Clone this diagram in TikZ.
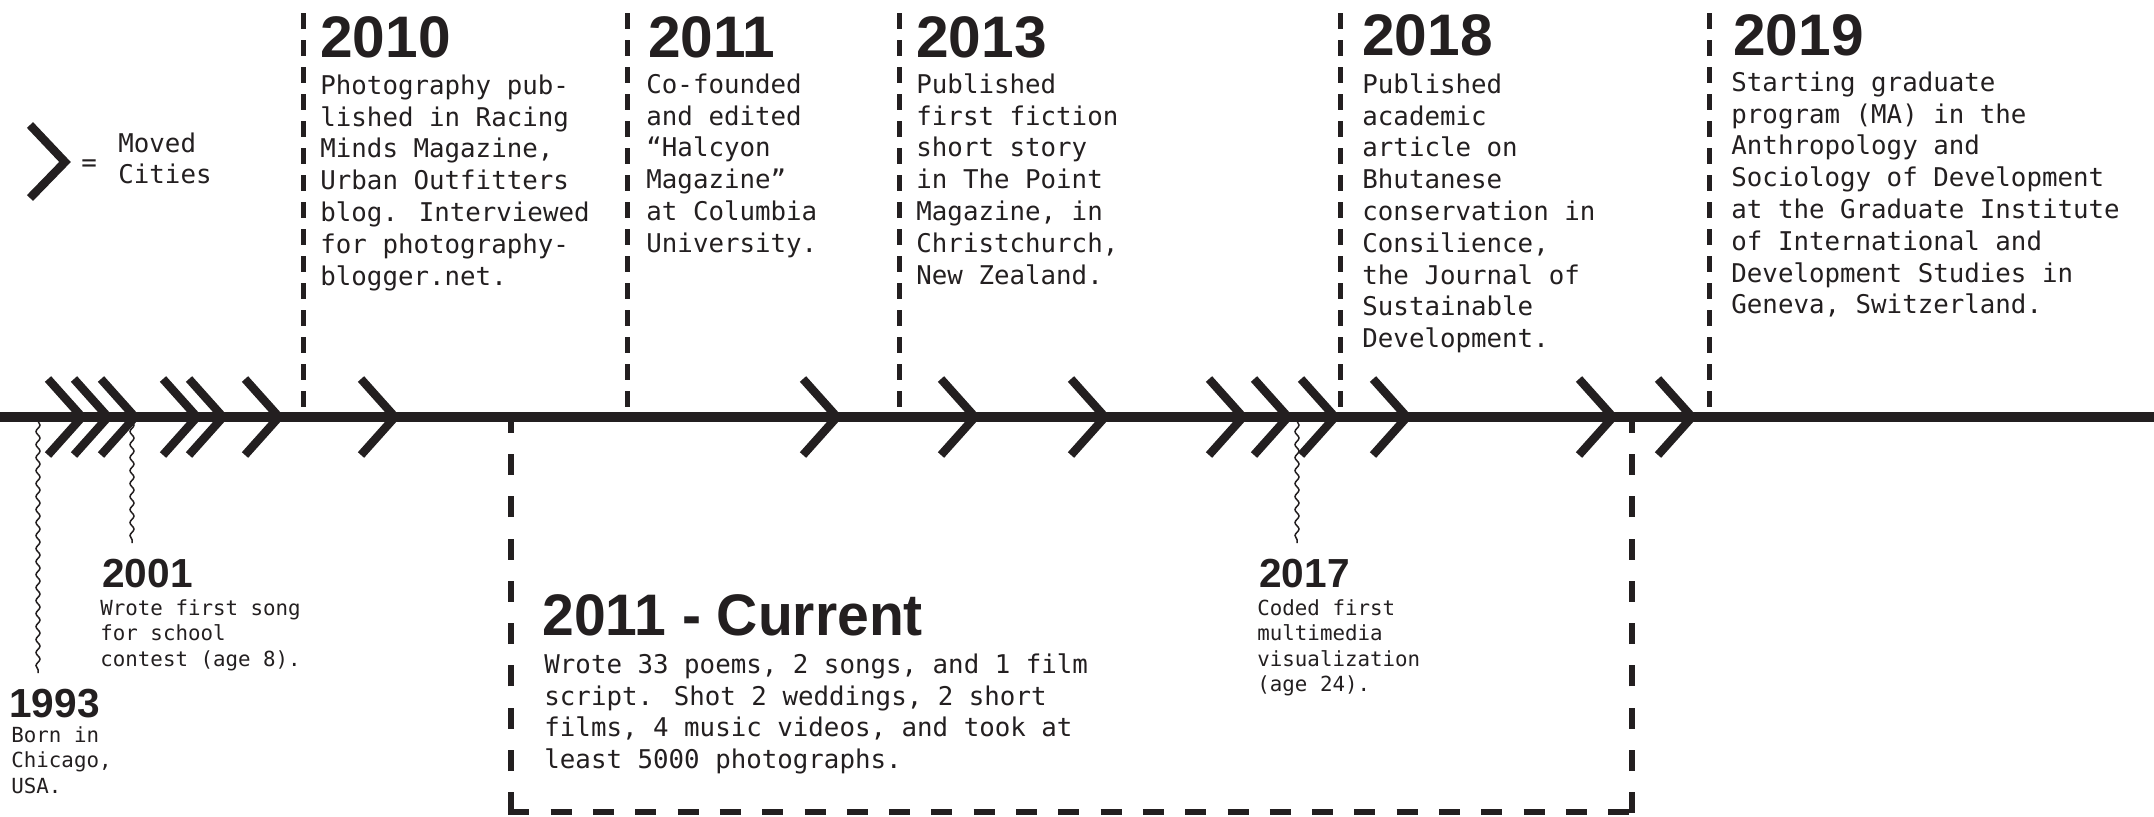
\documentclass[tikz,border=0pt]{standalone}
\usepackage{fontspec}
\usetikzlibrary{decorations.pathmorphing}
\newfontfamily\monof{DejaVu Sans Mono}
\newfontfamily\headf{Liberation Sans}
\definecolor{ink}{HTML}{231F20}
\tikzset{
  yr/.style={font=\headf\bfseries\fontsize{29.3}{32}\selectfont, anchor=base west, inner sep=0, text=ink},
  yrs/.style={font=\headf\bfseries\fontsize{20.3}{22}\selectfont, anchor=base west, inner sep=0, text=ink},
  body/.style={font=\monof\fontsize{12.9}{15.9}\selectfont, anchor=north west, inner sep=0, align=left, text=ink},
  bodys/.style={font=\monof\fontsize{10.4}{12.7}\selectfont, anchor=north west, inner sep=0, align=left, text=ink},
  legtxt/.style={font=\monof\fontsize{12.9}{15.5}\selectfont, anchor=north west, inner sep=0, align=left, text=ink},
  axisline/.style={draw=ink, line width=5pt},
  chev/.style={draw=ink, line width=4.2pt, line join=miter, line cap=butt},
  yearline/.style={draw=ink, line width=2.5pt, dash pattern=on 8pt off 5.5pt},
  boxline/.style={draw=ink, line width=2.6pt, dash pattern=on 10.5pt off 10.65pt},
  wavy/.style={draw=ink, line width=0.75pt, decorate, decoration={snake, amplitude=1pt, segment length=6.5pt}},
}
\begin{document}
\begin{tikzpicture}[x=0.5pt,y=-0.5pt]
\useasboundingbox (0,0) rectangle (2154,816);

% coordinates on the axis
\coordinate (axL) at (0,417);
\coordinate (axR) at (2154,417);

% wavy connectors
\coordinate (w93a) at (38,421);   \coordinate (w93b) at (38,673);
\coordinate (w01a) at (132,421);  \coordinate (w01b) at (132,543);
\coordinate (w17a) at (1297,421); \coordinate (w17b) at (1297,543);
\draw[wavy] (w93a) -- (w93b);
\draw[wavy] (w01a) -- (w01b);
\draw[wavy] (w17a) -- (w17b);

% dashed year lines
\foreach \n/\x in {a/303, b/627, c/899, d/1340, e/1709}{
  \coordinate (yl\n t) at (\x,13);
  \coordinate (yl\n b) at (\x,417);
  \draw[yearline] (yl\n t) -- (yl\n b);
}

% dashed box 2011 - Current
\coordinate (bxTL) at (511,417);
\coordinate (bxBL) at (511,812);
\coordinate (bxBR) at (1632,812);
\coordinate (bxTR) at (1632,417);
\draw[boxline] ([yshift=-0.65pt]bxBL) -- (bxTL);
\draw[boxline] ([yshift=-0.65pt]bxBR) -- (bxTR);
\draw[boxline] ([xshift=-1.3pt]bxBL) -- ([xshift=1.3pt]bxBR);

% main axis
\draw[axisline] (axL) -- (axR);

% chevrons (moved cities)
\foreach \t in {82,108,135,197,223,279,395,837,975,1105,1243,1288,1335,1407,1613,1692}{
  \draw[chev] (\t-34,379) -- (\t,417) -- (\t-34,455);
}

% legend
\draw[chev] (30,125) -- (65,162) -- (30,198);
\node[font=\monof\fontsize{12.9}{15.5}\selectfont, anchor=base west, inner sep=0, text=ink] (eq) at (81,171) {=};
\node[legtxt] (leg) at (118,130.3) {\strut Moved\\Cities};

% top headings
\node[yr] (h2010) at (320,57) {2010};
\node[body] (t2010) at (320,71.7) {\strut Photography pub-\\lished in Racing\\Minds Magazine,\\Urban Outfitters\\blog. Interviewed\\for photography-\\blogger.net.};

\node[yr] (h2011) at (648,57) {2011};
\node[body] (t2011) at (646,70.7) {\strut Co-founded\\and edited\\“Halcyon\\Magazine”\\at Columbia\\University.};

\node[yr] (h2013) at (916,57) {2013};
\node[body] (t2013) at (916,70.7) {\strut Published\\first fiction\\short story\\in The Point\\Magazine, in\\Christchurch,\\New Zealand.};

\node[yr] (h2018) at (1362,55) {2018};
\node[body] (t2018) at (1362,70.7) {\strut Published\\academic\\article on\\Bhutanese\\conservation in\\Consilience,\\the Journal of\\Sustainable\\Development.};

\node[yr] (h2019) at (1733,55) {2019};
\node[body] (t2019) at (1731,68.7) {\strut Starting graduate\\program (MA) in the\\Anthropology and\\Sociology of Development\\at the Graduate Institute\\of International and\\Development Studies in\\Geneva, Switzerland.};

% bottom headings
\node[yrs] (h2001) at (102,587) {2001};
\node[bodys] (t2001) at (100,597.2) {\strut Wrote first song\\for school\\contest (age 8).};

\node[yrs] (h1993) at (9,717) {1993};
\node[bodys] (t1993) at (11,724.2) {\strut Born in\\Chicago,\\USA.};

\node[yr] (hcur) at (542,635) {\scalebox{0.974}[1]{2011 - Current}};
\node[body] (tcur) at (544,650.7) {\strut Wrote 33 poems, 2 songs, and 1 film\\script. Shot 2 weddings, 2 short\\films, 4 music videos, and took at\\least 5000 photographs.};

\node[yrs] (h2017) at (1259,587) {2017};
\node[bodys] (t2017) at (1257,597.2) {\strut Coded first\\multimedia\\visualization\\(age 24).};
\end{tikzpicture}
\end{document}
